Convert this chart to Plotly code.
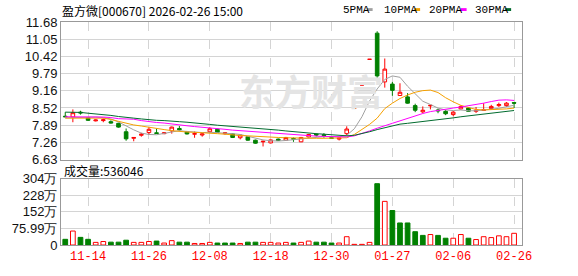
import plotly.graph_objects as go

# ---------------- data ----------------
dates = ["11-11","11-12","11-13","11-14","11-17","11-18","11-19","11-20","11-21","11-24","11-25","11-26","11-27","11-28",
         "12-01","12-02","12-03","12-04","12-05","12-08","12-09","12-10","12-11","12-12","12-15","12-16","12-17","12-18",
         "12-19","12-22","12-23","12-24","12-25","12-26","12-29","12-30","12-31",
         "01-19","01-20","01-21","01-22","01-23","01-26","01-27","01-28","01-29","01-30",
         "02-02","02-03","02-04","02-05","02-06","02-09","02-10","02-11","02-12","02-13","02-24","02-25","02-26"]

open_ = [8.22,8.19,8.37,8.17,8.05,8.06,8.02,7.96,7.65,7.41,7.52,7.62,7.61,7.58,
         7.68,7.77,7.65,7.56,7.53,7.65,7.74,7.58,7.57,7.43,7.47,7.34,7.28,7.24,
         7.38,7.34,7.40,7.28,7.46,7.56,7.54,7.43,7.38,
         7.58,8.52,9.37,10.31,11.27,9.48,9.40,8.98,8.93,8.61,
         8.38,8.60,8.45,8.40,8.28,8.49,8.52,8.40,8.43,8.50,8.61,8.61,8.72]
high = [8.37,8.47,8.42,8.19,8.10,8.14,8.07,7.98,7.77,7.45,7.61,7.83,7.77,7.63,
        7.84,7.86,7.68,7.66,7.60,7.82,7.76,7.62,7.58,7.54,7.48,7.36,7.32,7.37,
        7.40,7.46,7.44,7.46,7.57,7.59,7.60,7.44,7.45,
        7.85,8.52,9.37,10.31,11.34,10.34,9.48,9.43,9.07,8.68,
        8.58,8.63,8.50,8.45,8.41,8.62,8.54,8.56,8.70,8.64,8.72,8.74,8.73]
low = [8.19,8.00,8.28,8.05,8.03,8.00,7.95,7.80,7.32,7.30,7.47,7.53,7.58,7.56,
       7.58,7.69,7.55,7.43,7.47,7.62,7.61,7.54,7.42,7.37,7.32,7.21,7.11,7.22,
       7.31,7.32,7.28,7.27,7.44,7.48,7.43,7.40,7.33,
       7.50,8.52,9.37,10.31,9.62,9.27,8.97,8.97,8.68,8.37,
       8.33,8.47,8.33,8.26,8.22,8.47,8.38,8.34,8.43,8.45,8.56,8.56,8.52]
close = [8.20,8.35,8.34,8.07,8.08,8.09,7.97,7.82,7.39,7.44,7.56,7.74,7.59,7.61,
         7.82,7.72,7.57,7.58,7.57,7.76,7.63,7.61,7.44,7.53,7.34,7.23,7.30,7.35,
         7.33,7.44,7.38,7.44,7.55,7.53,7.51,7.41,7.42,
         7.75,8.52,9.37,10.31,9.70,9.95,9.17,9.10,8.70,8.44,
         8.44,8.62,8.42,8.31,8.37,8.58,8.40,8.44,8.46,8.58,8.65,8.70,8.70]

ma5 = [8.16,8.17,8.18,8.18,8.19,8.17,8.12,8.01,7.85,7.72,7.60,7.55,7.54,7.59,
       7.65,7.69,7.66,7.63,7.62,7.63,7.62,7.61,7.58,7.55,7.49,7.42,7.35,7.32,
       7.31,7.33,7.36,7.39,7.43,7.46,7.47,7.47,7.46,
       7.52,7.76,8.20,8.78,9.22,9.57,9.70,9.65,9.32,9.05,
       8.77,8.65,8.52,8.45,8.43,8.45,8.42,8.42,8.45,8.49,8.51,8.57,8.62]
ma10 = [8.15,8.15,8.15,8.15,8.15,8.15,8.10,8.03,7.96,7.90,7.86,7.81,7.76,7.73,
        7.69,7.66,7.64,7.63,7.62,7.60,7.58,7.56,7.53,7.51,7.50,7.48,7.46,7.45,
        7.44,7.43,7.42,7.41,7.41,7.41,7.41,7.42,7.42,
        7.43,7.55,7.72,7.92,8.15,8.50,8.70,8.87,9.00,9.10,
        9.16,9.18,9.09,8.90,8.75,8.62,8.54,8.47,8.45,8.46,8.48,8.49,8.52]
ma20 = [8.20,8.20,8.20,8.19,8.19,8.19,8.17,8.13,8.12,8.11,8.06,8.02,7.99,7.97,
        7.93,7.90,7.87,7.84,7.82,7.79,7.77,7.74,7.71,7.69,7.67,7.65,7.62,7.59,
        7.57,7.55,7.53,7.51,7.50,7.49,7.48,7.47,7.46,
        7.46,7.50,7.58,7.68,7.78,7.88,7.96,8.05,8.14,8.24,
        8.32,8.39,8.44,8.48,8.52,8.56,8.60,8.65,8.70,8.76,8.81,8.82,8.80]
ma30 = [8.37,8.37,8.36,8.33,8.31,8.28,8.25,8.21,8.17,8.15,8.12,8.09,8.07,8.06,
        8.03,8.02,8.00,7.98,7.95,7.92,7.89,7.87,7.84,7.82,7.80,7.78,7.76,7.73,
        7.71,7.68,7.65,7.62,7.60,7.58,7.56,7.54,7.52,
        7.50,7.52,7.58,7.65,7.73,7.80,7.88,7.93,7.96,7.99,
        8.03,8.07,8.10,8.13,8.16,8.20,8.23,8.26,8.29,8.32,8.36,8.40,8.43]

# volume in 万 shares; vol_up: 1 = red (up), 0 = green (down)
volume = [26,64,35,26,12,16,13,13,22,12,12,16,18,9,
          20,13,13,7,7,12,9,9,9,7,13,13,12,12,
          9,12,9,12,18,13,13,9,9,
          38,3,3,12,281,200,158,101,101,61,
          44,48,44,31,31,48,31,25,38,34,42,38,53.6]
vol_up = [0,1,0,0,1,1,0,0,0,1,1,1,0,1,
          1,0,0,1,1,1,0,0,0,1,0,0,1,1,
          1,1,0,1,1,0,0,0,1,
          1,1,1,1,0,1,0,0,0,0,
          0,1,0,0,1,1,0,1,1,1,1,1,1]

price_ticks = [6.63,7.26125,7.8925,8.52375,9.155,9.78625,10.4175,11.04875,11.68]
price_labels = ["6.63","7.26","7.89","8.52","9.16","9.79","10.42","11.05","11.68"]
vol_ticks = [0,75.99,151.98,227.97,303.97]
vol_labels = ["0","75.99万","152万","228万","304万"]
x_tick_dates = ["11-14","11-26","12-08","12-18","12-30","01-27","02-06","02-26"]

title_text = "盈方微[000670] 2026-02-26 15:00"
vol_title = "成交量:536046"
ma_names = ["5PMA","10PMA","20PMA","30PMA"]

# ---------------- styles ----------------
RED = "#ff0000"
GREEN = "#008000"
MA_COLORS = ["#a0a0a0", "#f5a000", "#ff00ff", "#006b2e"]
GRID = "#d4d4d4"
BORDER = "#999999"

W, H = 578, 276
L, R, T, B = 56, 56, 22, 21
PW, PH = W - L - R, H - T - B

def px_x(p):
    return (p - L) / PW

def px_y(p):
    return (H - B - p) / PH

idx = list(range(len(dates)))
tick_idx = [dates.index(d) for d in x_tick_dates]

fig = go.Figure()

fig.add_trace(go.Candlestick(
    x=idx, open=open_, high=high, low=low, close=close,
    xaxis="x2", yaxis="y2",
    increasing=dict(line=dict(color=RED, width=1), fillcolor="white"),
    decreasing=dict(line=dict(color=GREEN, width=1), fillcolor=GREEN),
    whiskerwidth=0, hoverinfo="skip",
))

for vals, col in zip([ma5, ma10, ma20, ma30], MA_COLORS):
    fig.add_trace(go.Scatter(x=idx, y=vals, mode="lines", xaxis="x2", yaxis="y2",
                             line=dict(color=col, width=1), hoverinfo="skip"))

fig.add_trace(go.Bar(
    x=idx, y=volume, xaxis="x", yaxis="y", width=0.62,
    marker=dict(color=["white" if u else GREEN for u in vol_up],
                line=dict(color=[RED if u else GREEN for u in vol_up], width=1)),
    hoverinfo="skip",
))

xr = [-0.56, len(dates) - 1 + 1.04]
common_x = dict(range=xr, showgrid=True, gridcolor=GRID, griddash="dash", gridwidth=1,
                showline=True, linecolor=BORDER, linewidth=1, mirror=True, zeroline=False,
                tickmode="array", tickvals=tick_idx, ticktext=x_tick_dates, ticks="",
                fixedrange=True)

fig.update_layout(
    width=W, height=H, margin=dict(l=L, r=R, t=T, b=B),
    paper_bgcolor="white", plot_bgcolor="white", showlegend=False,
    boxgap=0.32,
    xaxis=dict(**common_x, anchor="y", domain=[0, 1],
               tickfont=dict(family="Liberation Mono", size=12, color=RED)),
    xaxis2=dict(**common_x, anchor="y2", domain=[0, 1], matches="x",
                showticklabels=False, rangeslider=dict(visible=False)),
    yaxis=dict(domain=[0, px_y(185.7)], range=[0, vol_ticks[-1]], tickmode="array",
               tickvals=vol_ticks, ticktext=vol_labels, showgrid=True, gridcolor=GRID,
               showline=True, linecolor=BORDER, mirror=True, zeroline=False, ticks="",
               tickfont=dict(family="Liberation Sans", size=13, color="#111")),
    yaxis2=dict(domain=[px_y(165.7), 1], range=[price_ticks[0], price_ticks[-1]],
                tickmode="array", tickvals=price_ticks, ticktext=price_labels,
                showgrid=True, gridcolor=GRID, showline=True, linecolor=BORDER,
                mirror=True, zeroline=False, ticks="",
                tickfont=dict(family="Liberation Sans", size=13, color="#111")),
)

annotations = [
    dict(text="<b>东方财富</b>", x=px_x(309), y=px_y(93), xref="paper", yref="paper",
         showarrow=False, font=dict(family="Noto Sans CJK SC", size=36, color="#e4e4e4"),
         xanchor="center", yanchor="middle"),
    dict(text=title_text, x=px_x(55), y=px_y(10), xref="paper", yref="paper",
         showarrow=False, xanchor="left", yanchor="middle",
         font=dict(family="Noto Sans CJK SC", size=12, color="#000")),
    dict(text=vol_title, x=px_x(57), y=px_y(177), xref="paper", yref="paper",
         showarrow=False, xanchor="left", yanchor="middle",
         font=dict(family="Noto Sans CJK SC", size=12, color="#000")),
]
legend_text_x = [339, 380, 426, 472]
legend_sq_x = [365, 413, 460, 505]
shapes = []
for name, tx, sx, col in zip(ma_names, legend_text_x, legend_sq_x, MA_COLORS):
    annotations.append(dict(text=name, x=px_x(tx), y=px_y(9.5), xref="paper", yref="paper",
                            showarrow=False, xanchor="left", yanchor="middle",
                            font=dict(family="Liberation Mono", size=11, color="#000")))
    shapes.append(dict(type="rect", xref="paper", yref="paper",
                       x0=px_x(sx), x1=px_x(sx + 6), y0=px_y(10.5), y1=px_y(7.5),
                       fillcolor=col, line=dict(width=0)))

fig.update_layout(annotations=annotations, shapes=shapes)

fig.write_html("out.html")
